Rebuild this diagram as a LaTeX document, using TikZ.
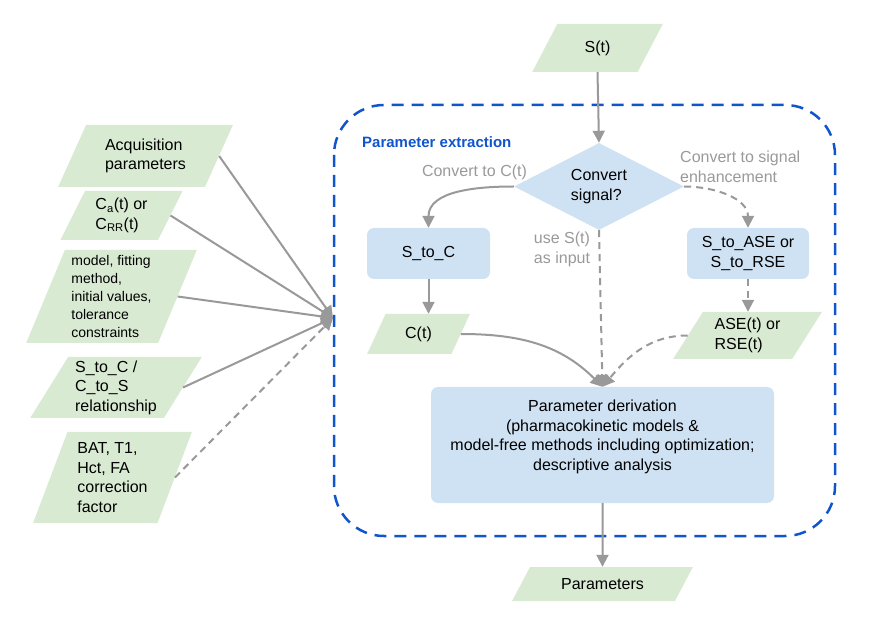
\documentclass[tikz,border=0pt]{standalone}
\usepackage{fontspec}
\setmainfont{Liberation Sans}
\usetikzlibrary{shapes.geometric,arrows.meta}
\definecolor{pgreen}{HTML}{D9EAD3}
\definecolor{pblue}{HTML}{CFE2F3}
\definecolor{dblue}{HTML}{1155CC}
\definecolor{lgray}{HTML}{999999}
\begin{document}
\begin{tikzpicture}[x=1pt,y=-1pt,
  txt/.style={font=\fontsize{16}{19.5}\selectfont},
  io/.style={trapezium, fill=pgreen, trapezium stretches=true, inner sep=0pt, align=left, txt},
  pbox/.style={rectangle, rounded corners=7pt, fill=pblue, align=center, inner sep=0pt, txt},
  arr/.style={draw=lgray, line width=2pt, -{Triangle[length=12pt,width=12pt]}},
  darr/.style={arr, dash pattern=on 7pt off 5pt},
  lbl/.style={text=lgray, align=left, inner sep=0pt, txt}
]
\useasboundingbox (0,0) rectangle (871,636);

% frame
\draw[dblue, line width=2.5pt, dash pattern=on 12pt off 8pt, rounded corners=50pt]
  (334,105) rectangle (835,536);
\node[anchor=west, inner sep=0pt, text=dblue, font=\fontsize{15}{18}\selectfont\bfseries] (title) at (362,142) {Parameter extraction};

% inputs on the left
\node[io, minimum width=175pt, minimum height=62pt, trapezium left angle=61, trapezium right angle=119] (acq) at (145.5,156) {Acquisition\\parameters};
\node[io, minimum width=123pt, minimum height=49pt, trapezium left angle=63, trapezium right angle=117] (ca) at (121.5,215.5) {C\textsubscript{a}(t) or\\C\textsubscript{RR}(t)};
\node[io, minimum width=171pt, minimum height=93pt, trapezium left angle=68, trapezium right angle=112, font=\fontsize{14}{18}\selectfont] (mod) at (111.5,296.5) {model, fitting\\method,\\initial values,\\tolerance\\constraints};
\node[io, minimum width=172pt, minimum height=61pt, trapezium left angle=59, trapezium right angle=121] (stc) at (116,387.5) {S\_to\_C /\\C\_to\_S\\relationship};
\node[io, minimum width=159pt, minimum height=91pt, trapezium left angle=69, trapezium right angle=111] (bat) at (112.5,477.5) {BAT, T1,\\Hct, FA\\correction\\factor};
\coordinate (conv) at (333,318);

% main flow
\node[io, minimum width=131pt, minimum height=48pt, trapezium left angle=61.6, trapezium right angle=118.4] (st) at (597.5,48) {S(t)};
\node[diamond, fill=pblue, minimum width=170pt, minimum height=87pt, aspect=2, inner sep=0pt, align=left, txt] (d) at (599,186.5) {Convert\\signal?};
\node[pbox, minimum width=123pt, minimum height=51pt] (s2c) at (428.5,253.5) {S\_to\_C};
\node[pbox, minimum width=122pt, minimum height=51pt] (s2a) at (748,253.5) {S\_to\_ASE or\\S\_to\_RSE};
\node[io, minimum width=103pt, minimum height=40pt, trapezium left angle=63.4, trapezium right angle=116.6] (ct) at (418.5,334) {C(t)};
\node[io, minimum width=149pt, minimum height=47pt, trapezium left angle=57.5, trapezium right angle=122.5] (ase) at (747.5,335.5) {ASE(t) or\\RSE(t)};
\node[pbox, minimum width=343pt, minimum height=116pt] (pd) at (602.5,445) {Parameter derivation\\(pharmacokinetic models \&\\model-free methods including optimization;\\descriptive analysis\\ \mbox{}};
\node[io, minimum width=181pt, minimum height=34pt, trapezium left angle=47.6, trapezium right angle=132.4] (par) at (602.5,584) {Parameters};

% labels
\node[lbl] (l1) at (474.5,172) {Convert to C(t)};
\node[lbl, anchor=west] (l2) at (680,167) {Convert to signal\\enhancement};
\node[lbl] (l3) at (562,249.5) {use S(t)\\as input};

% connectors
\draw[arr] (st.south) -- (d.north);
\draw[arr] (d.west) to[out=180,in=90] (s2c.north);
\draw[darr] (d.east) to[out=0,in=90] (s2a.north);
\draw[darr] (d.south) -- (pd.north);
\draw[arr] (s2c.south) -- (s2c.south |- ct.north);
\draw[darr] (s2a.south) -- (s2a.south |- ase.north);
\draw[arr] (ct.east) to[out=0,in=135] (pd.north);
\draw[darr] (ase.west) to[out=180,in=50] (pd.north);
\draw[arr] (pd.south) -- (par.north);

\draw[arr] (acq.east) -- (conv);
\draw[arr] (ca.east) -- (conv);
\draw[arr] (mod.east) -- (conv);
\draw[arr] (stc.east) -- (conv);
\draw[darr] (bat.east) -- (conv);
\end{tikzpicture}
\end{document}
